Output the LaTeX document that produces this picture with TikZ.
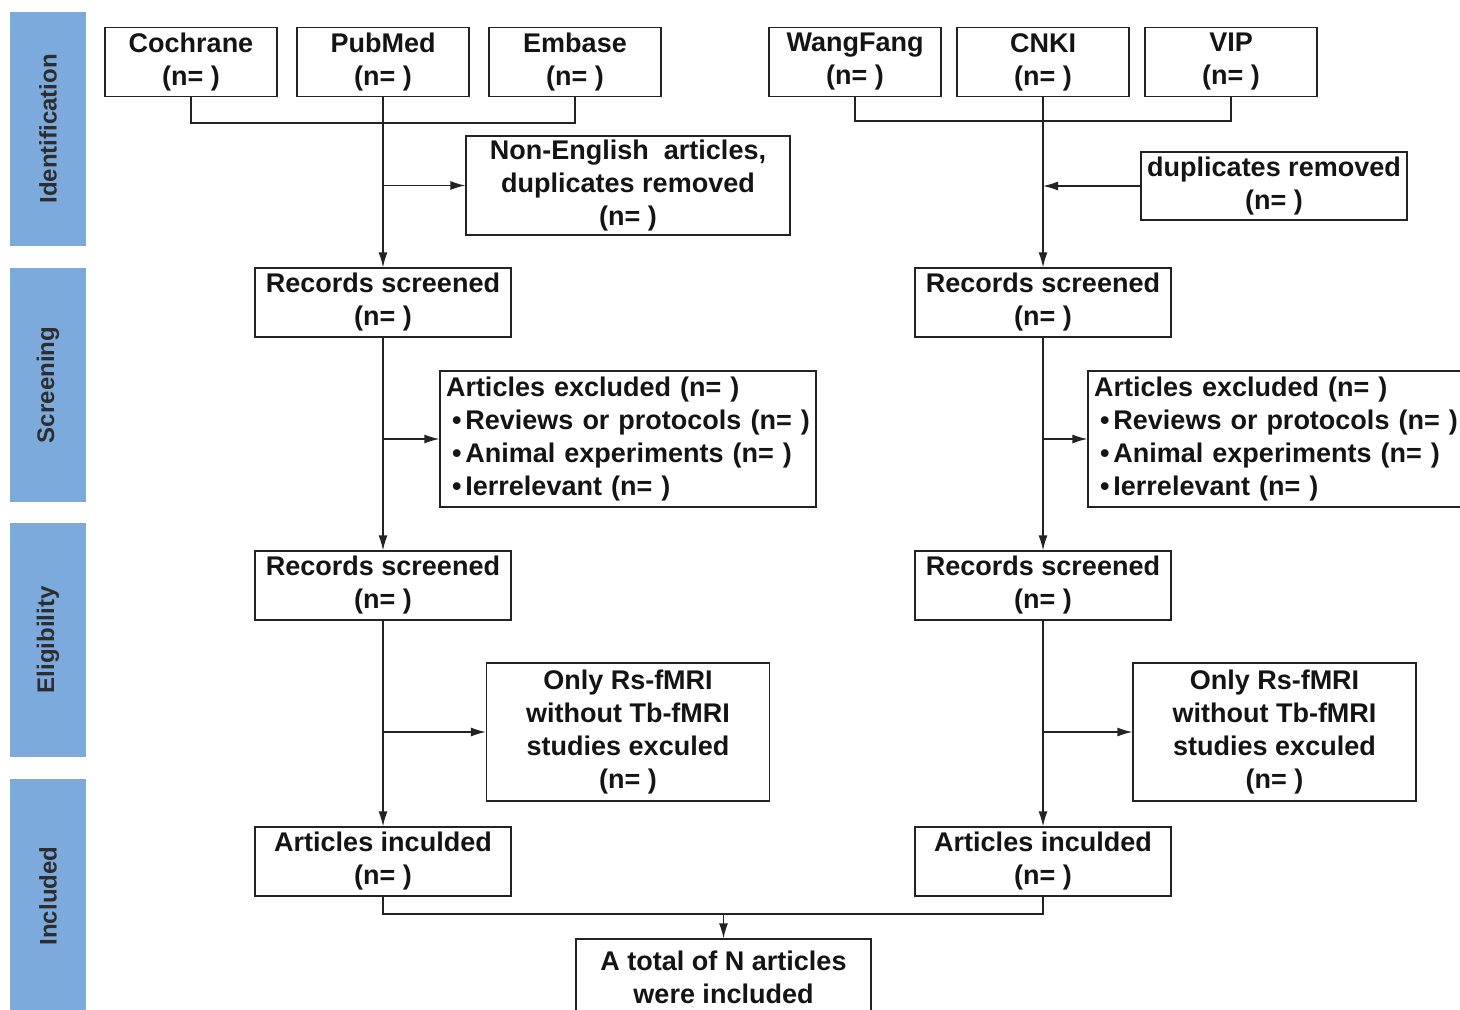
\documentclass[tikz,border=0pt]{standalone}
\usepackage{fontspec}
\setmainfont{Liberation Sans}
\usetikzlibrary{arrows.meta}

\definecolor{barblue}{RGB}{125,170,221}
\definecolor{bartext}{RGB}{45,45,45}
\definecolor{linegray}{RGB}{35,35,35}

\begin{document}
\begin{tikzpicture}[
        x = 0.5pt, y = -0.5pt, % pixel grid, y down
        > = {Latex[length=7.5pt, width=4.5pt]}, % arrow head style
        line width = 0.65pt, draw = linegray % line style
    ]

    \tikzset{box/.style = {draw = linegray, line width = 0.65pt, rectangle,
        align = center, inner sep = 2pt, text = black!92,
        font = \fontsize{13.5}{16.5}\selectfont\bfseries},
        src/.style = {box, minimum width = 86pt, minimum height = 34.5pt},
        rec/.style = {box, minimum width = 128pt, minimum height = 34.5pt},
        excl/.style = {box, text width = 182pt, align = left,
            inner xsep = 3pt, minimum height = 68pt},
        only/.style = {box, minimum width = 141.5pt, minimum height = 69pt},
        phase/.style = {fill = barblue, rotate = 90, minimum width = 117pt,
            minimum height = 38pt, inner sep = 0pt, text = bartext,
            font = \fontsize{12}{14}\selectfont\bfseries}}

    \useasboundingbox (0,0) rectangle (1460,1010);

    % phases
    \node (p1) [phase] at (48,129) {Identification};
    \node (p2) [phase] at (48,385) {Screening};
    \node (p3) [phase] at (48,640) {Eligibility};
    \node (p4) [phase] at (48,896) {Included};

    % databases
    \node (coch) [src] at (191,62) {Cochrane\\(n= )};
    \node (pub) [src] at (383,62) {PubMed\\(n= )};
    \node (emb) [src] at (575,62) {Embase\\(n= )};
    \node (wang) [src] at (855,62) {WangFang\\(n= )};
    \node (cnki) [src] at (1043,62) {CNKI\\(n= )};
    \node (vip) [src] at (1231,62) {VIP\\(n= )};

    \node (nonen) [box, minimum width = 162pt, minimum height = 48.5pt]
        at (628,185.5) {Non-English\ \ articles,\\duplicates removed\\(n= )};
    \node (dup) [box, minimum width = 133pt, minimum height = 34pt]
        at (1274,186) {duplicates removed\\(n= )};

    % left column
    \node (recL) [rec] at (383,302.5) {Records screened\\(n= )};
    \node (exL) [excl] at (628,439) {Articles excluded (n= )\\
        \hspace{3pt}\textbullet\hspace{2pt}Reviews or protocols (n= )\\
        \hspace{3pt}\textbullet\hspace{2pt}Animal experiments (n= )\\
        \hspace{3pt}\textbullet\hspace{2pt}Ierrelevant (n= )};
    \node (rec2L) [rec] at (383,585.5) {Records screened\\(n= )};
    \node (onL) [only] at (628,732)
        {Only Rs-fMRI\\without Tb-fMRI\\studies exculed\\(n= )};
    \node (incL) [rec] at (383,861.5) {Articles inculded\\(n= )};

    % right column
    \node (recR) [rec] at (1043,302.5) {Records screened\\(n= )};
    \node (exR) [excl] at (1276,439) {Articles excluded (n= )\\
        \hspace{3pt}\textbullet\hspace{2pt}Reviews or protocols (n= )\\
        \hspace{3pt}\textbullet\hspace{2pt}Animal experiments (n= )\\
        \hspace{3pt}\textbullet\hspace{2pt}Ierrelevant (n= )};
    \node (rec2R) [rec] at (1043,585.5) {Records screened\\(n= )};
    \node (onR) [only] at (1274.5,732)
        {Only Rs-fMRI\\without Tb-fMRI\\studies exculed\\(n= )};
    \node (incR) [rec] at (1043,861.5) {Articles inculded\\(n= )};

    \node (tot) [box, minimum width = 147.5pt, minimum height = 38pt]
        at (723.5,977) {A total of N articles\\were included};

    % joins
    \coordinate (jl) at (383,123);
    \coordinate (jr) at (1043,121);
    \coordinate (jb) at (723.5,914);

    \draw (coch.south) |- (jl) -| (emb.south);
    \draw (wang.south) |- (jr) -| (vip.south);
    \draw (incL.south) |- (jb) -| (incR.south);

    \draw[->] (pub.south) -- (recL.north);
    \draw[->] (pub.south |- nonen.west) -- (nonen.west);
    \draw[->] (cnki.south) -- (recR.north);
    \draw[->] (dup.west) -- (cnki.south |- dup.west);

    \draw[->] (recL.south) -- (rec2L.north);
    \draw[->] (recL.south |- exL.west) -- (exL.west);
    \draw[->] (recR.south) -- (rec2R.north);
    \draw[->] (recR.south |- exR.west) -- (exR.west);

    \draw[->] (rec2L.south) -- (incL.north);
    \draw[->] (rec2L.south |- onL.west) -- (onL.west);
    \draw[->] (rec2R.south) -- (incR.north);
    \draw[->] (rec2R.south |- onR.west) -- (onR.west);

    \draw[->] (jb) -- (tot.north);

\end{tikzpicture}
\end{document}
